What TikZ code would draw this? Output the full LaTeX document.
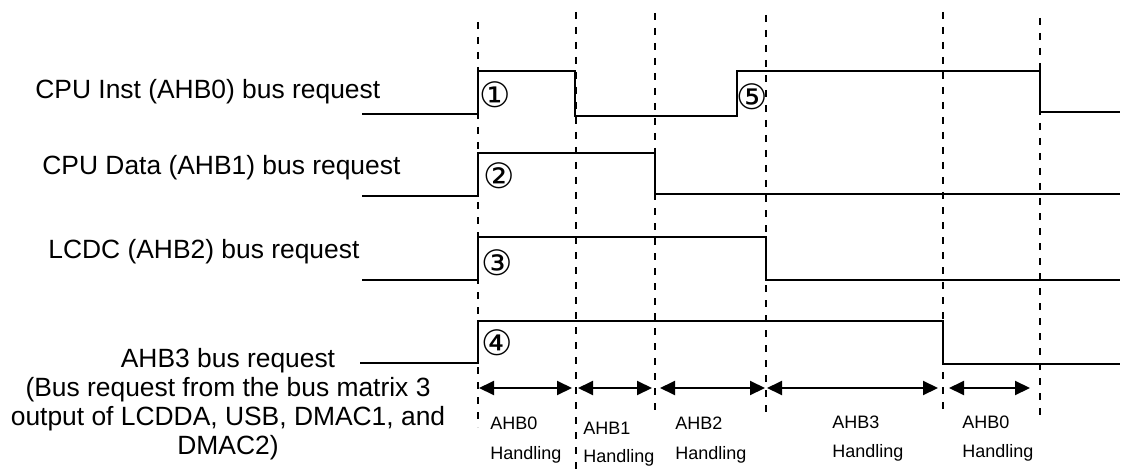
\documentclass[tikz,border=0pt]{standalone}
\usepackage{fontspec}
\setmainfont{Liberation Sans}
\newfontfamily\circfont{DejaVu Sans}
\usepackage{tikz}
\usetikzlibrary{positioning,arrows.meta}

\begin{document}
\begin{tikzpicture}[
  x=0.5pt, y=-0.5pt,
  sig/.style={line width=1pt},
  guide/.style={line width=1pt, dash pattern=on 3.5pt off 4pt},
  span/.style={{Triangle[length=7.5pt,width=7pt]}-{Triangle[length=7.5pt,width=7pt]},
               line width=1pt},
  lbl/.style={anchor=west, inner sep=0pt, font=\fontsize{13.2}{14.5}\selectfont},
  hlbl/.style={anchor=west, inner sep=0pt, font=\fontsize{9}{11}\selectfont},
  num/.style={inner sep=0pt, font=\circfont\fontsize{17.5}{17.5}\selectfont}
]
\useasboundingbox (0,0) rectangle (1122,470);

% signal names
\node[lbl] (inst) at (35,92) {CPU Inst (AHB0) bus request};
\node[lbl] (data) at (42,168) {CPU Data (AHB1) bus request};
\node[lbl] (lcdc) at (48,252) {LCDC (AHB2) bus request};
\node[lbl, anchor=center, align=center] (ahb3) at (228,404)
  {AHB3 bus request\\ (Bus request from the bus matrix 3\\
   output of LCDDA, USB, DMAC1, and\\ DMAC2)};

% time marks
\foreach \x/\a/\b in {478/22/427, 576/12/470, 655/13/413,
                      766/15/413, 943/12/410, 1040/18/417}
  \draw[guide] (\x,\a) -- (\x,\b);

% waveforms
\draw[sig] (362,114) -- (478,114) -- (478,71) -- (575,71) -- (575,116)
  -- (737,116) -- (737,71) -- (1040,71) -- (1040,112) -- (1120,112);
\draw[sig] (362,196) -- (478,196) -- (478,153) -- (655,153) -- (655,194)
  -- (1120,194);
\draw[sig] (362,280) -- (478,280) -- (478,237) -- (766,237) -- (766,280)
  -- (1120,280);
\draw[sig] (360,363) -- (478,363) -- (478,321) -- (943,321) -- (943,364)
  -- (1120,364);

% request numbers
\node[num] (n1) at (495,95) {①};
\node[num] (n2) at (499,176) {②};
\node[num] (n3) at (497,263) {③};
\node[num] (n4) at (497,343) {④};
\node[num] (n5) at (752,97) {⑤};

% handling periods
\foreach \n/\l/\r in {a/479/572, b/578/652, c/660/765, d/767/938, e/949/1030} {
  \coordinate (\n l) at (\l,388);
  \coordinate (\n r) at (\r,388);
  \draw[span] (\n l) -- (\n r);
}
\node[hlbl] (pa) at (490,423) {AHB0};
\node[hlbl] (ha) at (490,455) {Handling};
\node[hlbl] (pb) at (583,428) {AHB1};
\node[hlbl] (hb) at (583,458) {Handling};
\node[hlbl] (pc) at (675,423) {AHB2};
\node[hlbl] (hc) at (675,455) {Handling};
\node[hlbl] (pd) at (832,422) {AHB3};
\node[hlbl] (hd) at (832,453) {Handling};
\node[hlbl] (pe) at (962,422) {AHB0};
\node[hlbl] (he) at (962,453) {Handling};
\end{tikzpicture}
\end{document}
